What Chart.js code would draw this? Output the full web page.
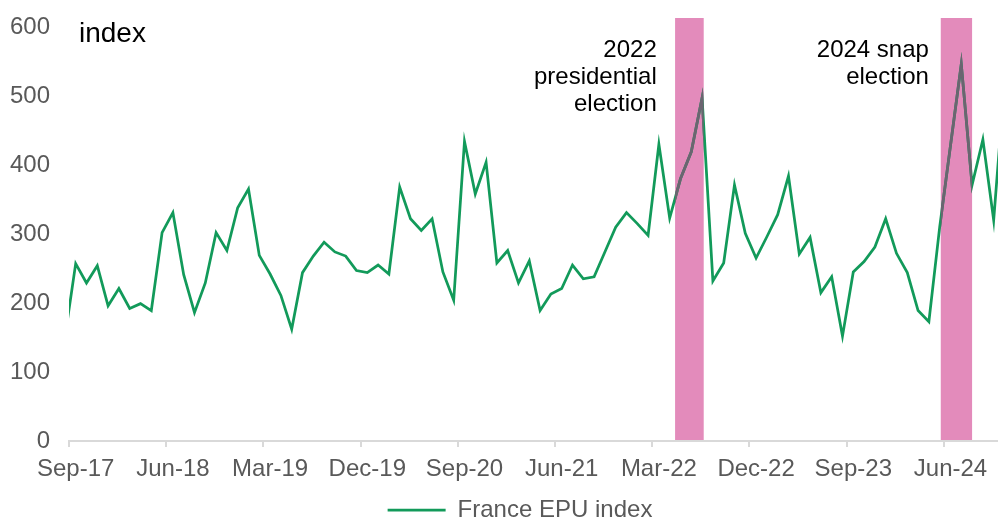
<!DOCTYPE html>
<html>
<head>
<meta charset="utf-8">
<script src="https://cdn.jsdelivr.net/npm/chart.js@4.4.1/dist/chart.umd.min.js"></script>
<style>
  html, body { margin: 0; padding: 0; background: #ffffff; }
  #wrap { width: 998px; height: 519px; position: relative; }
</style>
</head>
<body>
<div id="wrap"><canvas id="chart"></canvas></div>
<script>
// France EPU index, monthly, Aug-17 .. Nov-24
// x = months after Sep-17 (Aug-17 = -1), first and last points run past the plot edges
const firstMonth = -1
const epu = [
  150,
  257, 229, 254, 196, 221, 192, 199, 189, 302, 331, 241, 186,
  229, 302, 276, 338, 365, 269, 242, 211, 162, 244, 268, 288,
  274, 268, 247, 244, 255, 242, 368, 322, 305, 322, 245, 204,
  434, 358, 404, 258, 276, 229, 261, 189, 213, 221, 255, 235,
  238, 274, 310, 331, 315, 298, 430, 323, 380, 419, 497, 232,
  258, 371, 301, 265, 296, 328, 384, 271, 295, 215, 238, 152,
  245, 260, 281, 322, 272, 244, 189, 173, 310, 428, 546, 371,
  437, 320, 520
]

const tickLabels = ['Sep-17', 'Jun-18', 'Mar-19', 'Dec-19', 'Sep-20', 'Jun-21', 'Mar-22', 'Dec-22', 'Sep-23', 'Jun-24']
const yTicks = [0, 100, 200, 300, 400, 500, 600]

// election shading, in months after Sep-17
const bandStart = [55.5, 80.1]
const bandEnd = [58.15, 83.0]

// annotation text: right edge (months), first baseline (index value)
const notes = [
  { x: 53.8, y: 556, lines: ['2022', 'presidential', 'election'] },
  { x: 79.0, y: 556, lines: ['2024 snap', 'election'] }
]

const green = '#129a5a'
const grey = '#6b6470'
const pink = '#e38bbb'
const FONT = "'Liberation Sans', Arial, sans-serif"
const tickOffset = 0.62
const tickStep = 9
const legendShift = { x: 21, y: 13 }

const points = epu.map((v, i) => ({ x: firstMonth + i, y: v }))

function bandRects(chart){
  const { chartArea, scales: { x, y } } = chart
  return bandStart.map((s, k) => {
    const x0 = x.getPixelForValue(s)
    const x1 = x.getPixelForValue(bandEnd[k])
    return [x0, chartArea.top, x1 - x0, y.getPixelForValue(0) - chartArea.top - 1]
  })
}

const extras = {
  id: 'extras',
  afterLayout(chart){
    const lg = chart.legend
    lg.left += legendShift.x
    lg.right += legendShift.x
    lg.top += legendShift.y
    lg.bottom += legendShift.y
  },
  beforeDatasetsDraw(chart){
    const ctx = chart.ctx
    ctx.save()
    ctx.fillStyle = pink
    bandRects(chart).forEach(r => ctx.fillRect(r[0], r[1], r[2], r[3]))
    ctx.restore()
  },
  // grey copy of the line only shows inside the bands
  beforeDatasetDraw(chart, args){
    if (args.index !== 1) return
    const ctx = chart.ctx
    ctx.save()
    ctx.beginPath()
    bandRects(chart).forEach(r => ctx.rect(r[0], r[1], r[2], r[3]))
    ctx.clip()
  },
  afterDatasetDraw(chart, args){
    if (args.index !== 1) return
    chart.ctx.restore()
  },
  afterDraw(chart){
    const { ctx, chartArea, scales: { x, y } } = chart
    ctx.save()
    ctx.fillStyle = '#000000'
    ctx.textBaseline = 'alphabetic'
    ctx.font = '28px ' + FONT
    ctx.textAlign = 'left'
    ctx.fillText('index', chartArea.left + 10, chartArea.top + 24)
    ctx.font = '24px ' + FONT
    ctx.textAlign = 'right'
    notes.forEach(n => {
      const px = x.getPixelForValue(n.x)
      const py = y.getPixelForValue(n.y)
      n.lines.forEach((t, k) => ctx.fillText(t, px, py + k * 27))
    })
    ctx.restore()
  }
}

new Chart(document.getElementById('chart'), {
  type: 'line',
  data: {
    datasets: [
      {
        label: 'France EPU index',
        data: points,
        borderColor: green,
        backgroundColor: green,
        borderWidth: 2.75,
        pointRadius: 0,
        tension: 0,
        order: 2
      },
      {
        label: 'band',
        data: points,
        borderColor: grey,
        backgroundColor: grey,
        borderWidth: 2.75,
        pointRadius: 0,
        tension: 0,
        order: 1
      }
    ]
  },
  options: {
    responsive: true,
    maintainAspectRatio: false,
    animation: false,
    events: [],
    layout: { padding: { top: 18, right: 0, left: 0, bottom: 0 } },
    scales: {
      x: {
        type: 'linear',
        min: -tickOffset,
        max: 85.4,
        afterBuildTicks: scale => {
          scale.ticks = tickLabels.map((_, k) => ({ value: -tickOffset + k * tickStep }))
        },
        afterFit: scale => { scale.height = 44 },
        ticks: {
          autoSkip: false,
          maxRotation: 0,
          padding: 8,
          labelOffset: 6.7,
          color: '#595959',
          font: { family: FONT, size: 24 },
          callback: (v, i) => tickLabels[i]
        },
        grid: { drawOnChartArea: false, drawTicks: true, tickLength: 6, color: '#d9d9d9', lineWidth: 2 },
        border: { display: true, color: '#d9d9d9', width: 2 }
      },
      y: {
        min: 0,
        max: 613,
        afterBuildTicks: scale => {
          scale.ticks = yTicks.map(v => ({ value: v }))
        },
        afterFit: scale => { scale.width = 69 },
        ticks: {
          padding: 3,
          color: '#595959',
          font: { family: FONT, size: 24 }
        },
        // hidden tick marks keep the labels clear of the plot
        grid: { display: false, drawTicks: true, tickLength: 16 },
        border: { display: false }
      }
    },
    plugins: {
      legend: {
        position: 'bottom',
        labels: {
          filter: item => item.datasetIndex === 0,
          usePointStyle: true,
          pointStyle: 'line',
          pointStyleWidth: 58,
          padding: 0,
          color: '#595959',
          font: { family: FONT, size: 24 }
        }
      },
      tooltip: { enabled: false }
    }
  },
  plugins: [extras]
})
</script>
</body>
</html>
